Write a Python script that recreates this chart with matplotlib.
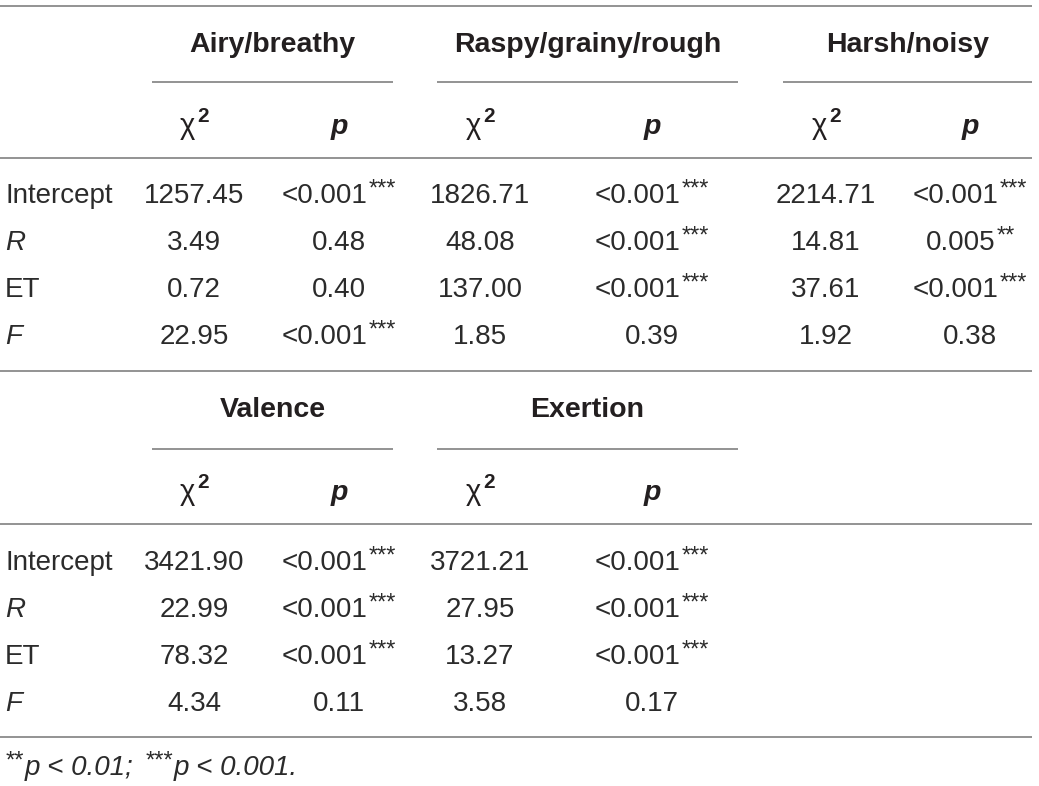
import matplotlib
matplotlib.use("Agg")
import matplotlib.pyplot as plt

# ---------------- data ----------------
row_labels = ["Intercept", "R", "ET", "F"]
row_italic = [False, True, False, True]

groups_top = ["Airy/breathy", "Raspy/grainy/rough", "Harsh/noisy"]
chi_top = [
    ["1257.45", "3.49", "0.72", "22.95"],
    ["1826.71", "48.08", "137.00", "1.85"],
    ["2214.71", "14.81", "37.61", "1.92"],
]
p_top = [
    [("<0.001", "***"), ("0.48", ""), ("0.40", ""), ("<0.001", "***")],
    [("<0.001", "***"), ("<0.001", "***"), ("<0.001", "***"), ("0.39", "")],
    [("<0.001", "***"), ("0.005", "**"), ("<0.001", "***"), ("0.38", "")],
]

groups_bot = ["Valence", "Exertion"]
chi_bot = [
    ["3421.90", "22.99", "78.32", "4.34"],
    ["3721.21", "27.95", "13.27", "3.58"],
]
p_bot = [
    [("<0.001", "***"), ("<0.001", "***"), ("<0.001", "***"), ("0.11", "")],
    [("<0.001", "***"), ("<0.001", "***"), ("<0.001", "***"), ("0.17", "")],
]

footnote = [("**", "p < 0.01; "), ("***", "p < 0.001.")]

# ---------------- layout ----------------
W, H = 1039, 786
FONT = "Liberation Sans"
TXT = "#231f20"
BODY = "#2b2b2b"
LINE = "#8a8a8a"
FS = 20
HFS = 20.5
SUP = 17

fig = plt.figure(figsize=(W / 100, H / 100), dpi=100)
ax = fig.add_axes([0, 0, 1, 1])
ax.set_xlim(0, W)
ax.set_ylim(H, 0)
ax.axis("off")
renderer = fig.canvas.get_renderer()

chi_x = [194, 480, 826]
p_x = [339, 652, 970]
grp_spans = [(152, 393), (437, 738), (783, 1032)]


def width_of(t):
    return t.get_window_extent(renderer).width


def composite(cx, y, main, sup, weight="normal", style="normal",
              sup_weight="normal", sup_dy=-9, fs=FS, sfs=SUP, gap=1, color=BODY):
    t1 = ax.text(0, y, main, fontsize=fs, family=FONT, weight=weight, style=style,
                 color=color, ha="left", va="baseline")
    w1 = width_of(t1)
    w2 = 0
    t2 = None
    if sup:
        t2 = ax.text(0, y + sup_dy, sup, fontsize=sfs, family=FONT, weight=sup_weight,
                     color=color, ha="left", va="baseline")
        w2 = width_of(t2) + gap
    x0 = cx - (w1 + w2) / 2
    t1.set_x(x0)
    if t2 is not None:
        t2.set_x(x0 + w1 + gap)


def hline(y, x0=0, x1=1032):
    ax.plot([x0, x1], [y, y], color=LINE, lw=1.3, solid_capstyle="butt")


def draw_block(groups, chis, ps, y_grp, y_uline, y_sub, y_sub_line, y_rows, ncols):
    for g in range(ncols):
        x0, x1 = grp_spans[g]
        ax.text((x0 + x1) / 2, y_grp, groups[g], fontsize=HFS, family=FONT,
                weight="bold", color=TXT, ha="center", va="baseline")
        hline(y_uline, x0, x1)
        composite(chi_x[g], y_sub, "χ", "2", sup_weight="bold", sup_dy=-12,
                  fs=21, sfs=15, gap=2, color=TXT)
        ax.text(p_x[g], y_sub, "p", fontsize=HFS, family=FONT, weight="bold",
                style="italic", color=TXT, ha="center", va="baseline")
    hline(y_sub_line)
    for r, lab in enumerate(row_labels):
        y = y_rows[r]
        ax.text(5, y, lab, fontsize=FS, family=FONT, color=BODY,
                style="italic" if row_italic[r] else "normal", ha="left", va="baseline")
        for g in range(ncols):
            ax.text(chi_x[g], y, chis[g][r], fontsize=FS, family=FONT, color=BODY,
                    ha="center", va="baseline")
            main, sup = ps[g][r]
            composite(p_x[g], y, main, sup, sup_dy=-7)


hline(6)
draw_block(groups_top, chi_top, p_top, 52, 82, 134, 158, [203, 250, 297, 344], 3)
hline(371)
draw_block(groups_bot, chi_bot, p_bot, 417, 449, 500, 524, [570, 617, 664, 711], 2)
hline(737)

# footnote
x = 5
yf = 775
for stars, txt in footnote:
    t = ax.text(x, yf - 7, stars, fontsize=SUP, family=FONT, style="italic",
                color=BODY, ha="left", va="baseline")
    x += width_of(t) + 1
    t = ax.text(x, yf, txt, fontsize=FS, family=FONT, style="italic",
                color=BODY, ha="left", va="baseline")
    x += width_of(t) + 4

fig.savefig("out.png", dpi=100)
